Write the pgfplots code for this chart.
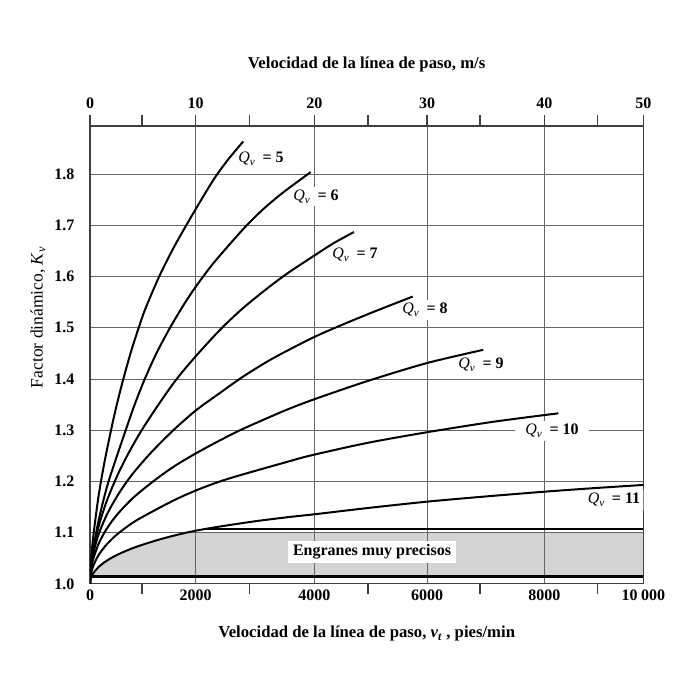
\documentclass[border=0pt]{standalone}
\usepackage{fontspec}
\setmainfont{Liberation Serif}
\usepackage{pgfplots}
\pgfplotsset{compat=1.18}
\definecolor{band}{RGB}{212,212,212}
\newcommand\fs{\fontsize{16bp}{19bp}\selectfont}
\newcommand\fl{\fontsize{16.7bp}{20bp}\selectfont}
\pgfplotsset{
  frame/.style={at={(90bp,116.1bp)}, anchor=south west, scale only axis,
    width=553.3bp, height=457.9bp, xmin=0, xmax=10000, ymin=1.0, ymax=1.894,
    scaled x ticks=false},
}
\tikzset{qlab/.style={fill=white, inner xsep=7bp, inner ysep=3bp, font=\fs}}
\newcommand\Q[1]{\textit{Q}\textsubscript{\textit{v}}\hspace{0.45em}\textbf{=\hspace{0.25em}#1}}
\begin{document}
\begin{tikzpicture}
% gray band
\begin{axis}[frame, hide axis]
\addplot[fill=band, draw=none] coordinates {(28,1.014) (50,1.0192) (150,1.0325) (300,1.0451) (500,1.0572) (800,1.0709) (1200,1.085) (1600,1.0965) (1740,1.1) (10000,1.1) (10000,1.014)} -- cycle;
\end{axis}
% main axis (pies/min)
\begin{axis}[frame,
  tick pos=left, tick align=outside,
  xtick={0,1907,4054,6091,8214,10000},
  xticklabels={0,2000,4000,6000,8000,10\hspace{0.22em}000},
  minor xtick={940,2879,5024,7049,9172},
  ytick={1.0,1.1,1.2,1.3,1.4,1.5,1.6,1.7,1.8},
  yticklabels={1.0,1.1,1.2,1.3,1.4,1.5,1.6,1.7,1.8},
  major tick length=0pt, minor tick length=10bp,
  xmajorgrids, ymajorgrids,
  grid style={black!60, line width=1bp},
  axis line style={black!75, line width=1.2bp},
  tick style={black!75, line width=1.2bp},
  ticklabel style={font=\fs\bfseries},
  xticklabel style={yshift=-2bp},
  yticklabel style={xshift=-12bp},
  xlabel={\textbf{Velocidad de la línea de paso, \textit{v}\textsubscript{\textit{t}} , pies/min}},
  xlabel style={at={(axis description cs:0.5,-0.1092)}, anchor=center, font=\fl},
  ylabel={Factor dinámico, \textit{K}\textsubscript{\textit{v}}},
  ylabel style={at={(axis description cs:-0.094,0.582)}, anchor=center, font=\fontsize{17.5bp}{20bp}\selectfont},
]
\node[qlab] at (axis cs:3091,1.830) {\Q{5}};
\node[qlab] at (axis cs:4085,1.7557) {\Q{6}};
\node[qlab] at (axis cs:4789,1.6424) {\Q{7}};
\node[qlab] at (axis cs:6055,1.535) {\Q{8}};
\node[qlab] at (axis cs:7067,1.4275) {\Q{9}};
\node[qlab, inner xsep=10bp] at (axis cs:8350,1.2986) {\Q{10}};
\node[qlab] at (axis cs:9470,1.1639) {\Q{11}};
\node[fill=white, inner xsep=5bp, inner ysep=4bp, font=\fs\bfseries] at (axis cs:5097,1.0623) {Engranes muy precisos};
% band lines
\addplot[black, line width=2.5bp] coordinates {(0,1.014) (10000,1.014)};
\addplot[black, line width=2.5bp] coordinates {(2080,1.107) (10000,1.107)};
% Qv = 5
\addplot[black, line width=2bp, smooth] coordinates {(0,1) (2,1.011) (10,1.031) (50,1.084) (150,1.168) (250,1.231) (370,1.295) (480,1.348) (602,1.4) (740,1.453) (880,1.5) (1000,1.537) (1250,1.6) (1500,1.654) (1750,1.702) (2000,1.748) (2250,1.792) (2500,1.829) (2771,1.864)};
% Qv = 6
\addplot[black, line width=2bp, smooth] coordinates {(0,1) (2,1.008) (10,1.023) (50,1.061) (150,1.121) (300,1.187) (450,1.238) (645,1.3) (800,1.348) (990,1.4) (1200,1.45) (1446,1.5) (1700,1.546) (1910,1.58) (2200,1.622) (2500,1.66) (2832,1.7) (3150,1.7335) (3500,1.765) (3989,1.804)};
% Qv = 7
\addplot[black, line width=2bp, smooth] coordinates {(0,1) (2,1.01) (10,1.025) (50,1.06) (150,1.11) (300,1.161) (500,1.213) (700,1.256) (934,1.3) (1250,1.352) (1566,1.4) (1916,1.445) (2350,1.496) (2750,1.537) (3193,1.576) (3578,1.607) (4054,1.641) (4400,1.665) (4771,1.687)};
% Qv = 8
\addplot[black, line width=2bp, smooth] coordinates {(0,1) (2,1.011) (10,1.024) (50,1.055) (150,1.095) (300,1.134) (500,1.173) (750,1.212) (1100,1.256) (1506,1.3) (1916,1.339) (2300,1.369) (2771,1.405) (3300,1.44) (3976,1.478) (4428,1.5) (5100,1.53) (5832,1.561)};
% Qv = 9
\addplot[black, line width=2bp, smooth] coordinates {(0,1) (2,1.0092) (10,1.0204) (50,1.0451) (150,1.0769) (300,1.1073) (500,1.1365) (800,1.17) (1200,1.205) (1550,1.2315) (1916,1.255) (2300,1.2775) (2711,1.3) (3200,1.3235) (3578,1.341) (4054,1.3605) (5000,1.3955) (6085,1.431) (7108,1.457)};
% Qv = 10
\addplot[black, line width=2bp, smooth] coordinates {(0,1) (2,1.0066) (10,1.0147) (50,1.0325) (150,1.0553) (300,1.0769) (500,1.0977) (800,1.1214) (1175,1.144) (1550,1.165) (1916,1.1825) (2300,1.1982) (2700,1.2118) (3578,1.2387) (4000,1.251) (5000,1.275) (6085,1.296) (7300,1.3167) (8464,1.333)};
% Qv = 11
\addplot[black, line width=2bp, smooth] coordinates {(0,1) (2,1.0039) (10,1.0087) (50,1.0192) (150,1.0325) (300,1.0451) (500,1.0572) (800,1.0709) (1200,1.085) (1600,1.0965) (1916,1.104) (2400,1.1129) (3000,1.1225) (3578,1.1303) (4054,1.1359) (5000,1.1479) (6085,1.1605) (7150,1.1707) (8210,1.18) (9100,1.1869) (10000,1.1932)};
\end{axis}
% top axis (m/s)
\begin{axis}[frame, axis x line*=top, axis y line=none,
  xtick={0,1907,4054,6091,8214,10000}, xticklabels={0,10,20,30,40,50},
  minor xtick={940,2879,5024,7049,9172},
  tick align=outside, major tick length=11bp, minor tick length=11bp,
  axis line style={-, black!75, line width=1.2bp},
  tick style={black!75, line width=1.2bp},
  ticklabel style={font=\fs\bfseries},
  xticklabel style={yshift=3bp},
  xlabel={\textbf{Velocidad de la línea de paso, m/s}},
  xlabel style={at={(axis description cs:0.5,1.135)}, anchor=center, font=\fl},
]
\addplot[draw=none] coordinates {(0,1) (10000,1.5)};
\end{axis}
\pgfresetboundingbox
\useasboundingbox (0,0) rectangle (700bp,700bp);
\end{tikzpicture}
\end{document}
